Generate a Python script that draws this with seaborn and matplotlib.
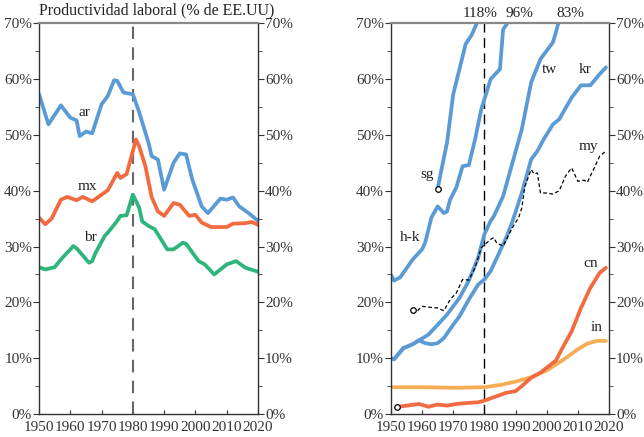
import matplotlib
matplotlib.use("Agg")
import matplotlib.pyplot as plt
import seaborn as sns
from matplotlib.ticker import MultipleLocator, FuncFormatter

# Left panel: Latin America
ar_years = [1950, 1953, 1957, 1960, 1962, 1963, 1965, 1967, 1970, 1972, 1974, 1975, 1977, 1980, 1982,
            1985, 1986, 1988, 1990, 1993, 1995, 1997, 1999, 2002, 2004, 2008, 2010, 2012, 2014, 2017, 2020]
ar_vals = [57.3, 51.9, 55.3, 53.1, 52.6, 49.8, 50.6, 50.3, 55.5, 57.0, 59.8, 59.7, 57.6, 57.3, 54.1,
           48.6, 46.2, 45.6, 40.2, 45.0, 46.7, 46.5, 42.0, 37.2, 36.0, 38.6, 38.4, 38.8, 37.2, 36.0, 34.6]

mx_years = [1950, 1952, 1954, 1957, 1959, 1960, 1962, 1964, 1967, 1972, 1975, 1976, 1978, 1981, 1982,
            1984, 1986, 1988, 1990, 1993, 1995, 1998, 2000, 2002, 2005, 2008, 2010, 2012, 2016, 2018, 2020]
mx_vals = [35.2, 34.0, 35.0, 38.4, 38.9, 38.7, 38.3, 38.9, 38.1, 40.1, 43.2, 42.3, 43.0, 49.2, 48.0,
           44.4, 38.9, 36.3, 35.5, 37.8, 37.5, 35.5, 35.7, 34.3, 33.5, 33.5, 33.5, 34.1, 34.2, 34.4, 33.9]

br_years = [1950, 1952, 1955, 1957, 1961, 1962, 1966, 1967, 1968, 1971, 1972, 1975, 1976, 1978, 1980,
            1982, 1983, 1985, 1987, 1991, 1993, 1996, 1997, 2001, 2003, 2006, 2010, 2013, 2016, 2020]
br_vals = [26.3, 25.9, 26.3, 27.7, 30.1, 29.7, 27.1, 27.4, 28.8, 31.9, 32.5, 34.6, 35.5, 35.6, 39.3,
           37.0, 34.5, 33.7, 33.1, 29.5, 29.5, 30.7, 30.5, 27.4, 26.8, 25.0, 26.8, 27.4, 26.2, 25.5]

# Right panel: East Asia
sg_years = [1965, 1966, 1968, 1970, 1972, 1974, 1976, 1978, 1981]
sg_vals = [40.3, 43.2, 48.6, 57.3, 61.8, 66.3, 68.0, 70.6, 76.0]

hk_years = [1950, 1951, 1953, 1957, 1960, 1961, 1963, 1965, 1967, 1968, 1969, 1971, 1973, 1975, 1977,
            1979, 1982, 1984, 1985, 1986, 1988, 1990]
hk_vals = [25.0, 23.9, 24.5, 27.7, 29.5, 30.7, 35.2, 37.2, 36.0, 36.3, 38.4, 40.6, 44.4, 44.6, 49.2,
           54.6, 60.0, 61.2, 61.8, 68.9, 70.5, 74.0]

tw_years = [1950, 1951, 1954, 1957, 1959, 1962, 1965, 1968, 1972, 1975, 1978, 1980, 1982, 1983, 1986,
            1989, 1992, 1995, 1998, 2002, 2003, 2004, 2006]
tw_vals = [10.0, 9.8, 11.8, 12.5, 13.2, 14.2, 16.0, 17.8, 20.8, 23.9, 28.0, 32.2, 34.6, 35.4, 39.0,
           45.0, 51.0, 59.4, 63.6, 66.6, 68.5, 70.6, 75.0]

kr_years = [1950, 1951, 1954, 1957, 1959, 1961, 1963, 1965, 1967, 1970, 1972, 1975, 1978, 1980, 1982,
            1984, 1987, 1989, 1992, 1995, 1997, 1999, 2002, 2004, 2008, 2011, 2014, 2017, 2019]
kr_vals = [10.0, 9.8, 11.8, 12.5, 13.2, 12.7, 12.5, 12.7, 13.6, 16.0, 17.5, 20.5, 23.2, 24.1, 25.6,
           28.0, 31.6, 34.5, 39.6, 45.6, 47.1, 49.2, 51.9, 52.8, 56.7, 58.9, 58.9, 60.9, 62.1]

my_years = [1957, 1958, 1960, 1963, 1965, 1967, 1969, 1971, 1973, 1975, 1977, 1979, 1981, 1982, 1983,
            1984, 1986, 1989, 1991, 1992, 1993, 1995, 1996, 1997, 1998, 2000, 2002, 2004, 2006, 2008,
            2010, 2012, 2013, 2015, 2017, 2019]
my_vals = [18.6, 18.2, 19.3, 19.1, 19.0, 18.5, 20.5, 21.7, 24.1, 24.0, 26.2, 29.8, 30.8, 31.3, 31.6,
           30.6, 30.1, 33.4, 35.2, 36.9, 40.8, 43.8, 43.0, 43.2, 39.6, 39.6, 39.4, 40.0, 42.6, 44.1,
           41.7, 41.9, 41.5, 43.8, 46.2, 47.1]

cn_years = [1952, 1955, 1959, 1962, 1965, 1968, 1971, 1975, 1978, 1980, 1983, 1987, 1990, 1992, 1995,
            1998, 2000, 2003, 2005, 2008, 2011, 2014, 2017, 2019]
cn_vals = [1.3, 1.5, 1.8, 1.3, 1.7, 1.5, 1.8, 2.0, 2.1, 2.4, 3.0, 3.8, 4.1, 5.0, 6.5,
           7.4, 8.3, 9.6, 11.8, 14.8, 19.0, 22.6, 25.3, 26.2]

in_years = [1950, 1960, 1970, 1980, 1985, 1990, 1995, 2000, 2005, 2010, 2013, 2016, 2019]
in_vals = [4.8, 4.8, 4.7, 4.8, 5.2, 5.8, 6.6, 7.8, 9.6, 11.6, 12.6, 13.1, 13.1]

BLUE = "#5b9bd5"
RED = "#f26a3f"
GREEN = "#2db57b"
ORANGE = "#f6ad55"

sns.set_style("ticks")
plt.rcParams["font.family"] = ["Liberation Serif", "DejaVu Serif"]
plt.rcParams["font.size"] = 11

fig = plt.figure(figsize=(6.44, 4.37), dpi=100)
ax1 = fig.add_axes([0.0606, 0.0526, 0.340, 0.894])
ax2 = fig.add_axes([0.607, 0.0526, 0.3387, 0.894])

lw = 2.7
sns.lineplot(x=ar_years, y=ar_vals, ax=ax1, color=BLUE, lw=lw)
sns.lineplot(x=mx_years, y=mx_vals, ax=ax1, color=RED, lw=lw)
sns.lineplot(x=br_years, y=br_vals, ax=ax1, color=GREEN, lw=lw)
ax1.axvline(1980, color="#666666", lw=1.5, ls=(0, (6, 4)), zorder=1)

for yrs, vals in [(sg_years, sg_vals), (hk_years, hk_vals), (tw_years, tw_vals), (kr_years, kr_vals)]:
    sns.lineplot(x=yrs, y=vals, ax=ax2, color=BLUE, lw=lw)
sns.lineplot(x=in_years, y=in_vals, ax=ax2, color=ORANGE, lw=lw)
sns.lineplot(x=cn_years, y=cn_vals, ax=ax2, color=RED, lw=lw)
sns.lineplot(x=my_years, y=my_vals, ax=ax2, color="black", lw=0.9, ls=(0, (3, 2)))
ax2.axvline(1980, color="black", lw=1.0, ls=(0, (7, 4)), zorder=1)

# hollow start markers
for yrs, vals in [(sg_years, sg_vals), (my_years, my_vals), (cn_years, cn_vals)]:
    ax2.plot(yrs[0], vals[0], "o", ms=4, mfc="white", mec="black", mew=0.9, zorder=5)

for ax in (ax1, ax2):
    ax.set_xlim(1950, 2020)
    ax.set_ylim(0, 70)
    ax.xaxis.set_major_locator(MultipleLocator(10))
    ax.yaxis.set_major_locator(MultipleLocator(10))
    ax.yaxis.set_minor_locator(MultipleLocator(5))
    ax.yaxis.set_major_formatter(FuncFormatter(lambda v, p: f"{v:.0f}%"))
    ax.tick_params(axis="y", which="both", left=True, right=True, labelleft=True, labelright=True,
                   direction="out", labelsize=11, pad=1, colors="#333333")
    ax.tick_params(axis="y", which="major", length=4)
    ax.tick_params(axis="y", which="minor", length=3)
    ax.tick_params(axis="x", direction="in", length=3, labelsize=11, pad=5, colors="#333333")
    for s in ("left", "right", "bottom"):
        ax.spines[s].set_visible(True)
        ax.spines[s].set_color("#333333")
        ax.spines[s].set_linewidth(1.0)
    ax.spines["top"].set_visible(True)
    ax.spines["top"].set_color("#888888")
    ax.spines["top"].set_linewidth(1.6)
    ax.set_xlabel("")
    ax.set_ylabel("")

ax1.text(1950, 70.9, "Productividad laboral (% de EE.UU)", fontsize=11.5, ha="left", va="bottom",
         color="#222222")

txt = dict(fontsize=11, color="#222222", ha="center", va="center")
ax1.text(1964.5, 54, "ar", **txt)
ax1.text(1965.5, 40.8, "mx", **txt)
ax1.text(1966.5, 31.6, "br", **txt)

ax2.text(1961.6, 43.0, "sg", **txt)
ax2.text(1956.0, 31.6, "h-k", **txt)
ax2.text(2001.0, 61.7, "tw", **txt)
ax2.text(2012.3, 61.7, "kr", **txt)
ax2.text(2013.5, 48.0, "my", **txt)
ax2.text(2014.2, 27.0, "cn", **txt)
ax2.text(2016.0, 15.5, "in", **txt)

ax2.text(1978.6, 71.8, "118%", **txt)
ax2.text(1991.4, 71.8, "96%", **txt)
ax2.text(2007.5, 71.8, "83%", **txt)

fig.savefig("out.png", dpi=100)
